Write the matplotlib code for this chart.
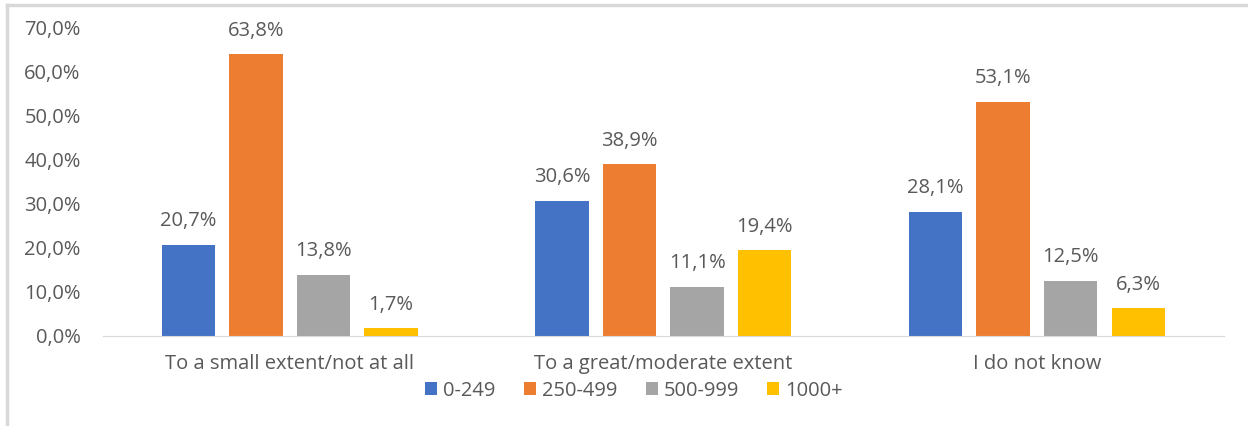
import numpy as np
import matplotlib.pyplot as plt
from matplotlib.lines import Line2D

# Data
categories = ['To a small extent/not at all', 'To a great/moderate extent', 'I do not know']
series_names = ['0-249', '250-499', '500-999', '1000+']
values = {
    '0-249': [20.7, 30.6, 28.1],
    '250-499': [63.8, 38.9, 53.1],
    '500-999': [13.8, 11.1, 12.5],
    '1000+': [1.7, 19.4, 6.3],
}
colors = ['#4472C4', '#ED7D31', '#A5A5A5', '#FFC000']
yticks = [0, 10, 20, 30, 40, 50, 60, 70]

text_color = '#595959'
plt.rcParams['font.family'] = ['Open Sans', 'DejaVu Sans']
fs = 14.5

fig = plt.figure(figsize=(12.48, 4.26), dpi=100)
ax = fig.add_axes([0.0825, 0.2113, 0.898, 0.7253])

x = np.arange(len(categories))
width = 0.143
step = 0.181
for i, name in enumerate(series_names):
    pos = x + (i - 1.5) * step
    bars = ax.bar(pos, values[name], width, color=colors[i], label=name)
    for b, v in zip(bars, values[name]):
        ax.annotate(f'{v:.1f}%'.replace('.', ','), (b.get_x() + b.get_width() / 2, v),
                    xytext=(0, 17), textcoords='offset points',
                    ha='center', va='center', fontsize=fs, color=text_color)

ax.set_xlim(-0.5, len(categories) - 0.5)
ax.set_ylim(0, 70)
ax.set_yticks(yticks)
ax.set_yticklabels([f'{t:.1f}%'.replace('.', ',') for t in yticks], fontsize=fs, color=text_color)
ax.set_xticks(x)
ax.set_xticklabels(categories, fontsize=fs, color=text_color)
ax.tick_params(length=0)
ax.tick_params(axis='x', pad=13)
ax.tick_params(axis='y', pad=16)
for s in ['top', 'right', 'left']:
    ax.spines[s].set_visible(False)
ax.spines['bottom'].set_color('#D9D9D9')

leg = ax.legend(loc='center', bbox_to_anchor=(0.474, -0.178), ncol=4, frameon=False,
                fontsize=fs, handlelength=0.6, handleheight=0.6, handletextpad=0.3,
                columnspacing=1.4, labelcolor=text_color)

# outer chart border (partly outside the picture)
fig.add_artist(Line2D([7 / 1248, 1], [1 - 5 / 426, 1 - 5 / 426], color='#D9D9D9', lw=2.5))
fig.add_artist(Line2D([7 / 1248, 7 / 1248], [0, 1 - 5 / 426], color='#D9D9D9', lw=2.5))

fig.savefig('out.png', dpi=100)
